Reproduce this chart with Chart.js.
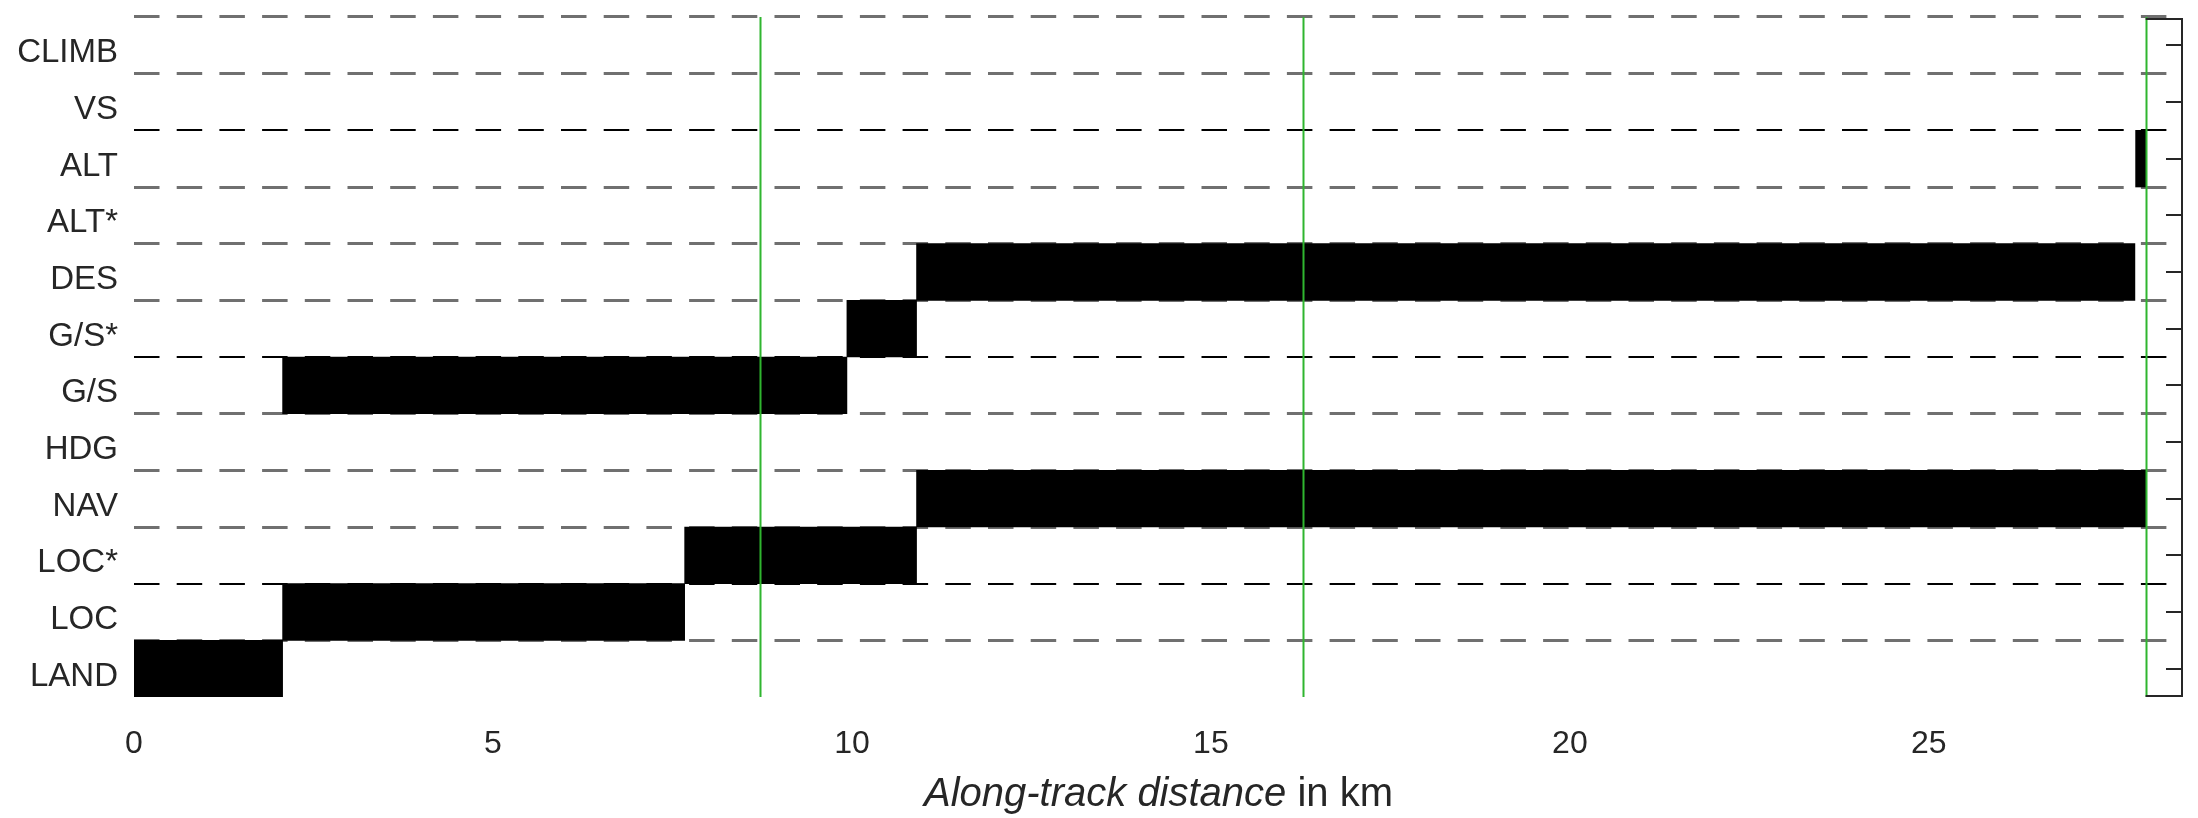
<!DOCTYPE html>
<html>
<head>
<meta charset="utf-8">
<script src="https://cdn.jsdelivr.net/npm/chart.js@4.4.1/dist/chart.umd.min.js"></script>
<style>
  html, body { margin: 0; padding: 0; background: #fff; }
</style>
</head>
<body>
<canvas id="modeChart" width="2198" height="818"></canvas>
<script>
// modos de vuelo, de arriba hacia abajo
const modos = ['CLIMB', 'VS', 'ALT', 'ALT*', 'DES', 'G/S*', 'G/S', 'HDG', 'NAV', 'LOC*', 'LOC', 'LAND'];
// inicio y fin de cada modo activo (km), null = nunca activo
const inicio = [null, null, 27.88, null, 10.9, 9.93, 2.07, null, 10.9, 7.67, 2.07, 0];
const fin = [null, null, 28.02, null, 27.87, 10.9, 9.93, null, 28.02, 10.9, 7.67, 2.07];
// lineas verticales verdes (km)
const marcas = [8.72, 16.28, 28.02];
const ticksX = [0, 5, 10, 15, 20, 25];
const xMax = 28.54;
// lineas de separacion que salen negras
const lineasNegras = [2, 6, 10];

const FUENTE = '"Liberation Sans", Arial, sans-serif';
const TEXTO = '#262626';

const tramos = modos.map((m, i) => inicio[i] === null ? null : [inicio[i], fin[i]]);

const marcoPlugin = {
    id: 'marco',
    afterDatasetsDraw(chart) {
        const { ctx, chartArea, scales } = chart;
        const x = scales.x, y = scales.y;
        ctx.save();
        // lineas verdes
        ctx.strokeStyle = '#2fb52f';
        ctx.lineWidth = 2;
        marcas.forEach(m => {
            const px = Math.round(x.getPixelForValue(m)) + 0.5;
            ctx.beginPath();
            ctx.moveTo(px, chartArea.top);
            ctx.lineTo(px, chartArea.bottom);
            ctx.stroke();
        });
        // eje derecho con ticks hacia dentro
        ctx.strokeStyle = TEXTO;
        ctx.lineWidth = 2;
        const r = chartArea.right - 1;
        ctx.beginPath();
        ctx.moveTo(r, chartArea.top + 2);
        ctx.lineTo(r, chartArea.bottom);
        const xb = x.getPixelForValue(marcas[marcas.length - 1]);
        ctx.moveTo(xb, chartArea.bottom - 1);
        ctx.lineTo(r + 1, chartArea.bottom - 1);
        ctx.moveTo(xb, chartArea.top + 2);
        ctx.lineTo(r + 1, chartArea.top + 2);
        modos.forEach((m, i) => {
            const py = Math.round(y.getPixelForTick(i));
            ctx.moveTo(r - 16, py);
            ctx.lineTo(r, py);
        });
        ctx.stroke();
        ctx.restore();
    },
    afterDraw(chart) {
        const { ctx, chartArea } = chart;
        const parte1 = 'Along-track distance';
        const parte2 = ' in km';
        ctx.save();
        ctx.fillStyle = TEXTO;
        ctx.textBaseline = 'middle';
        ctx.font = 'italic 40px ' + FUENTE;
        const w1 = ctx.measureText(parte1).width;
        ctx.font = '40px ' + FUENTE;
        const w2 = ctx.measureText(parte2).width;
        const cx = (chartArea.left + chartArea.right) / 2;
        const x0 = cx - (w1 + w2) / 2;
        const ty = chartArea.bottom + 98;
        ctx.font = 'italic 40px ' + FUENTE;
        ctx.textAlign = 'left';
        ctx.fillText(parte1, x0, ty);
        ctx.font = '40px ' + FUENTE;
        ctx.fillText(parte2, x0 + w1, ty);
        ctx.restore();
    }
};

const ctx = document.getElementById('modeChart').getContext('2d');
new Chart(ctx, {
    type: 'bar',
    data: {
        labels: modos,
        datasets: [{
            data: tramos,
            backgroundColor: '#000',
            borderWidth: 0,
            barPercentage: 1,
            categoryPercentage: 1
        }]
    },
    options: {
        indexAxis: 'y',
        responsive: false,
        animation: false,
        devicePixelRatio: 1,
        layout: { padding: { top: 17, right: 15, left: 0, bottom: 0 } },
        plugins: {
            legend: { display: false },
            tooltip: { enabled: false }
        },
        scales: {
            x: {
                type: 'linear',
                min: 0,
                max: xMax,
                grid: { display: false },
                border: { display: false },
                afterBuildTicks(scale) {
                    scale.ticks = ticksX.map(v => ({ value: v }));
                },
                afterFit(scale) {
                    scale.height = 121;
                    scale.paddingLeft = 0;
                    scale.paddingRight = 0;
                },
                ticks: {
                    color: TEXTO,
                    padding: 20,
                    maxRotation: 0,
                    font: { family: FUENTE, size: 32 }
                }
            },
            y: {
                type: 'category',
                offset: true,
                border: { display: false, dash: [25.5, 17.2] },
                grid: {
                    offset: true,
                    drawTicks: false,
                    color(c) {
                        if (c.type !== 'tick') return 'rgba(0,0,0,0)';
                        return lineasNegras.includes(c.index) ? '#000' : '#707070';
                    },
                    lineWidth(c) {
                        if (c.type !== 'tick') return 0;
                        return lineasNegras.includes(c.index) ? 2 : 3;
                    }
                },
                afterFit(scale) {
                    scale.width = 134;
                    scale.paddingTop = 0;
                    scale.paddingBottom = 0;
                },
                ticks: {
                    color: TEXTO,
                    padding: 16,
                    labelOffset: 8,
                    font: { family: FUENTE, size: 33 }
                }
            }
        }
    },
    plugins: [marcoPlugin]
});
</script>
</body>
</html>
